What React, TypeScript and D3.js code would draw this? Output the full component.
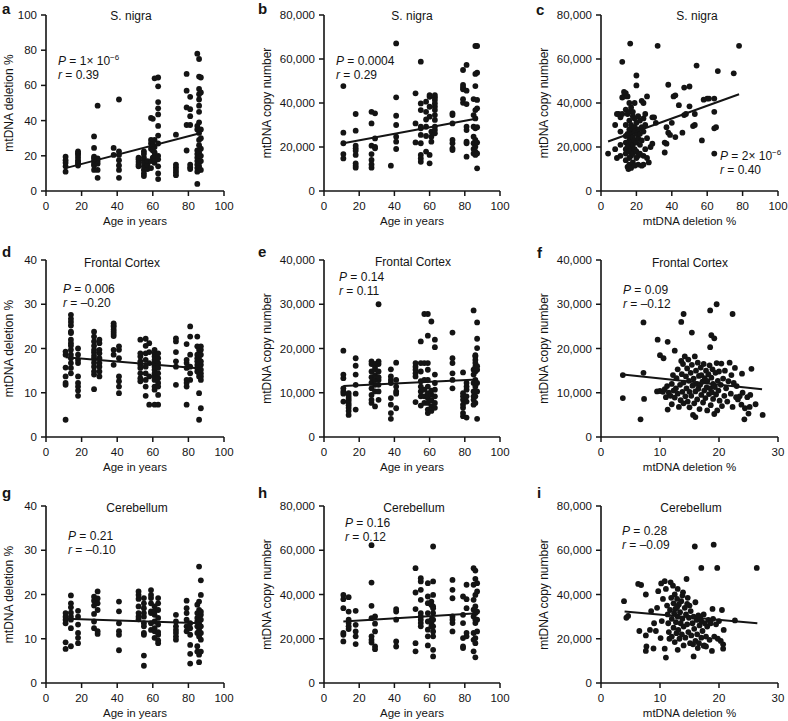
import React from 'react'
import * as d3 from 'd3'

type Pt = [number, number]
type Col = [number, number[]]

// tick values
const ageTicks = [0, 20, 40, 60, 80, 100]
const pctTicks100 = [0, 20, 40, 60, 80, 100]
const pctTicks40 = [0, 10, 20, 30, 40]
const pctTicks30 = [0, 10, 20, 30]
const copyTicks80 = [0, 20000, 40000, 60000, 80000]
const copyTicks40 = [0, 10000, 20000, 30000, 40000]

// S. nigra: age vs deletion (grouped by age)
const snAgeDel: Col[] = [
  [11, [11, 14, 16, 17.5, 19.5]],
  [18, [14.5, 15.5, 16.5, 17.5, 19, 20.5, 21.5, 22.5]],
  [27, [12, 14.5, 15.5, 17, 18.5, 19.5, 24.5, 31]],
  [29, [7.5, 12, 15.5, 17, 18.5, 48.5]],
  [38, [20.5, 24.5]],
  [41, [7.5, 12, 14.5, 17.5, 20.5, 22.5, 52]],
  [52, [14, 15, 16.5, 18, 19]],
  [55, [8.5, 10, 12, 14, 16, 17.5, 19, 21, 22.5]],
  [57, [12.5, 15, 17]],
  [59, [13, 17, 24, 27, 29, 41.5]],
  [60, [19, 23, 26, 28.5, 41]],
  [61, [16, 18, 20, 22, 25, 29, 64]],
  [63, [6.8, 10, 14, 18, 20, 27, 31.5, 37, 43.5, 47, 50.5, 59.5, 64.5]],
  [73, [9, 10.5, 12, 13.5, 15, 32]],
  [79, [23, 37.5, 47.5, 57, 66.5]],
  [81, [12.5, 13.5, 15, 37.5, 42.5, 46.5, 53.5]],
  [85, [4, 11, 13, 15, 17, 19, 21, 23, 35, 37, 78]],
  [86, [12, 14, 16, 18, 20, 22, 26, 29, 33, 39, 45, 48.5, 52, 55, 58, 65, 75]],
  [87, [12, 17, 20, 24, 30, 35, 56, 64.5]],
]
const snAgeDelFit: Pt[] = [[11, 13], [87, 33]]

// S. nigra: age vs copy number
const snAgeCopy: Col[] = [
  [11, [14800, 16800, 21700, 26500, 47700]],
  [18, [10600, 11500, 12600, 16400, 18300, 19400, 20600, 27400, 35000]],
  [27, [10600, 12100, 14100, 16800, 20600, 30700, 36000]],
  [29, [19400, 20100, 23900, 35300]],
  [38, [11500]],
  [41, [19100, 22400, 24700, 30000, 34200, 42600, 67100]],
  [52, [22100, 30700, 44400]],
  [55, [13300, 14800, 16400, 21700, 25500, 28500, 29200, 36800, 39800, 58800]],
  [58, [17900, 25000, 29200, 32500, 36000, 40600]],
  [60, [12600, 16400, 33800, 38300, 42800, 43600]],
  [61, [22400, 24700, 27000]],
  [63, [26200, 27700, 29200, 32300, 34500, 36800, 38300, 39800, 41400, 42600, 43600]],
  [73, [18600, 19400, 21700, 23200, 30700, 34500, 35300]],
  [79, [40100, 41700, 46200, 47100, 48200, 55000]],
  [81, [15600, 21700, 22400, 27700, 29200, 39500, 45600, 57300]],
  [85, [17100, 19100, 21700, 24700, 29200, 34500, 41800]],
  [86, [16400, 17900, 20100, 23200, 28500, 33000, 36800, 47700, 53200, 65900]],
  [87, [10300, 17100, 22000, 29000, 37600, 41400, 53800, 65900]],
]
const snAgeCopyFit: Pt[] = [[11, 21700], [87, 33000]]

// S. nigra: deletion vs copy number
const snDelCopy: Pt[] = [
  [4, 17000], [8, 30000], [8, 19000], [9, 15000], [9, 35000], [10, 35000], [11, 33500], [11, 27000],
  [11, 21000], [11, 16000], [12, 35000], [12, 42500], [12, 58700], [13, 43000], [13, 45000], [14, 44500],
  [14, 37000], [14, 30000], [14, 25000], [14, 22000], [14, 19000], [14, 17000], [14, 14000], [15, 43000],
  [15, 35000], [15, 26000], [15, 22000], [15, 20000], [15, 11000], [15.5, 10000], [16, 40000], [16, 36000],
  [16, 32000], [16, 28000], [16, 25000], [16, 23000], [16, 20500], [16, 18000], [16, 15000], [16, 12000],
  [16.5, 67000], [17, 38000], [17, 30000], [17, 26000], [17, 24000], [17, 22000], [17, 19000], [17, 16000],
  [17, 10500], [18, 36000], [18, 34000], [18, 28000], [18, 24500], [18, 21000], [18, 17000], [18, 13000],
  [19, 40000], [19, 33000], [19, 29000], [19, 27000], [19, 23000], [19, 19000], [19, 11500], [20, 52500],
  [20, 48000], [20, 31000], [20, 26000], [20, 22000], [20, 18000], [20, 15000], [21, 34000], [21, 28000],
  [21, 24000], [21, 16000], [21, 12000], [22, 32000], [22, 26000], [22, 21000], [22, 17000], [23, 41000],
  [23, 29000], [23, 23000], [23, 11500], [24, 40000], [24, 33000], [24, 27000], [24, 16000], [24, 12000],
  [25, 35000], [25, 30000], [25, 19000], [26, 43000], [26, 24000], [26, 15000], [27, 13000], [28, 20000],
  [29, 33500], [30, 33500], [29, 21500], [31, 31000], [32, 66000], [36, 22000], [37, 21500], [36, 17500],
  [37, 29000], [38, 48300], [38, 26500], [39, 25500], [40, 31000], [41, 43000], [42, 43500], [42, 24500],
  [44, 39000], [46, 26500], [47, 34500], [47, 47000], [48, 35000], [50, 38500], [50, 47500], [52, 29500],
  [53, 30000], [53, 35000], [54, 57000], [57, 23000], [58, 41500], [60, 42000], [61, 42000], [64, 42000],
  [64, 36000], [64, 28500], [65, 29000], [64, 17000], [66, 54500], [75, 53500], [78, 66000],
]
const snDelCopyFit: Pt[] = [[4, 22500], [78, 44000]]

// Frontal cortex: age vs deletion
const fcAgeDel: Col[] = [
  [11, [3.9, 11.8, 12.2, 13.7, 15.7, 18.6, 19.3]],
  [14, [14.4, 15.6, 16.7, 17.8, 18.6, 19.7, 20.6, 21.2, 22, 23.5, 23.8, 25.2, 26, 26.7, 27.6]],
  [18, [9.3, 10.5, 11.4, 12.2, 13.7, 16.7, 17.4, 18.6, 20]],
  [27, [10.8, 14.1, 14.8, 15.9, 16.8, 17.7, 18.3, 19.1, 19.7, 20.6, 21.6, 22.7, 23.8]],
  [30, [13.7, 14.8, 15.9, 16.7, 17.8, 18.9, 19.7, 21.2, 22]],
  [38, [16.3, 18.6, 19.7, 22.8, 23.3, 23.8, 24.3, 24.9, 25.2, 25.7]],
  [41, [9.9, 11.4, 12.6, 13.7, 17.8, 19.7, 20.5]],
  [53, [12.6, 13.3, 14.4, 15.6, 16.3, 17.1, 18.2, 18.9, 22]],
  [56, [9.3, 11.4, 12.9, 14.4, 15.9, 17.4, 18.9, 20.6, 22.2]],
  [58, [7.3, 13.7, 16.7, 19.2, 21.2]],
  [61, [7.3, 10.7, 11.4, 12.9, 13.7, 14.4, 15.2, 15.9, 16.7, 17.4, 18.2, 18.9, 19.7]],
  [63, [7.3, 9.5, 11.4, 12.2, 13.3, 14.4, 15.6, 16.7, 17.8, 18.9]],
  [73, [11.8, 15.9, 17.1, 19.2, 21.6, 22.3]],
  [79, [7.3, 11.4, 12.2, 12.9, 15.6, 16.7, 17.4, 21]],
  [81, [12.9, 14.4, 15.9, 18.6, 22.7, 25]],
  [85, [14.8, 15.6, 16.3, 17.1, 17.8, 18.6, 20.5, 22.7]],
  [86, [3.9, 9.9, 13.7, 14.4, 15.2, 15.9, 16.7, 17.4, 18.2, 18.9, 19.7]],
  [87, [6.5, 12.9, 13.7, 14.4, 15.2, 16.3, 17.1, 18.6, 19.7, 20.5]],
]
const fcAgeDelFit: Pt[] = [[11, 18], [87, 15.5]]

// Frontal cortex: age vs copy number
const fcAgeCopy: Col[] = [
  [11, [8000, 9800, 10300, 11000, 13300, 14100, 19500]],
  [14, [5000, 5900, 6600, 7200, 7700, 8300, 8800, 9300, 9900]],
  [18, [6200, 9800, 11800, 14100, 16100, 17800]],
  [27, [7700, 8400, 9500, 11000, 12300, 13500, 14800, 16500, 17100]],
  [29, [6900, 10300, 11800, 12900, 14000, 15300, 15900, 16500]],
  [31, [8400, 10300, 11800, 12900, 13500, 14800, 16500, 17100, 30000]],
  [38, [4100, 5400, 7300, 8800, 12200, 12900, 13700, 15300]],
  [41, [6500, 9800, 10300, 11400, 12900, 16800]],
  [52, [7900, 13700, 14400, 15200, 15900, 16700]],
  [55, [7100, 9200, 10300, 11400, 12600, 14800, 16700, 21600]],
  [57, [7700, 9200, 10700, 12900, 16700, 27800]],
  [59, [5400, 6200, 7700, 8800, 9900, 11400, 12900, 15200, 16700, 22900, 27800]],
  [61, [5900, 7000, 8300, 9500, 10500, 26100]],
  [63, [6600, 7700, 9200, 10700, 12200, 14100, 20300, 22000]],
  [73, [11000, 12900, 14400, 16700, 17800, 23600]],
  [79, [4700, 5400, 6600, 7300, 8400, 9200, 9900, 14600]],
  [81, [4400, 8000, 9200, 10700, 11400, 12200]],
  [85, [7300, 8400, 9200, 10300, 12200, 14100, 15200, 28600]],
  [86, [7700, 9200, 10300, 11400, 12900, 14800, 15900, 16700, 17400, 18200, 18500]],
  [87, [4100, 10300, 12200, 15200, 16000, 20100, 22200, 25900]],
]
const fcAgeCopyFit: Pt[] = [[11, 11500], [87, 13000]]

// Frontal cortex: deletion vs copy number
const fcDelCopy: Pt[] = [
  [3.7, 14000], [3.7, 8800], [6.7, 4000], [7.2, 25900], [7.2, 14500], [7.3, 8600], [9.6, 22000], [10, 18500],
  [10.6, 17800], [11.3, 21500], [12.5, 19500], [13.6, 26000], [14, 27800], [15.4, 23600], [18.5, 28600],
  [19.6, 30000], [18.7, 23000], [19.2, 22300], [22.3, 27800], [18.5, 20300], [25.5, 15400], [27.4, 5000],
  [24.3, 4000], [25, 5300], [26.2, 7400], [23.9, 14300], [25.3, 9500],
  [9.5, 10300], [10, 10400], [10.5, 10200], [10.8, 10800], [11, 9000], [11.2, 11500], [11.3, 6200],
  [11.5, 10000], [11.8, 9300], [12, 12000], [12, 7400], [12.2, 14000], [12.3, 10500], [12.5, 8900],
  [12.7, 11000], [12.8, 13300], [13, 9800], [13, 15300], [13.2, 6800], [13.4, 11800], [13.5, 8300],
  [13.6, 17200], [13.7, 14200], [13.8, 10200], [13.9, 16500], [14, 12300], [14, 7600], [14.2, 18200],
  [14.3, 9200], [14.4, 13700], [14.5, 11000], [14.6, 15500], [14.7, 8000], [14.8, 17500], [14.9, 12700],
  [15, 10200], [15, 6700], [15.2, 14500], [15.3, 9300], [15.4, 16300], [15.5, 11600], [15.6, 5000],
  [15.7, 13200], [15.8, 7600], [15.9, 18200], [16, 10300], [16, 4500], [16.1, 15000], [16.2, 12000],
  [16.3, 8500], [16.4, 16800], [16.5, 10900], [16.6, 13800], [16.7, 6300], [16.8, 11800], [16.9, 15700],
  [17, 9500], [17, 14000], [17.2, 12500], [17.3, 7800], [17.4, 16500], [17.5, 10500], [17.6, 13300],
  [17.7, 8800], [17.8, 15000], [17.9, 11200], [18, 12600], [18, 6000], [18.2, 14200], [18.3, 9700],
  [18.4, 16200], [18.5, 11000], [18.6, 7200], [18.7, 13400], [18.8, 10100], [18.9, 15300], [19, 12000],
  [19, 8600], [19.2, 5200], [19.3, 11300], [19.4, 14500], [19.5, 9600], [19.6, 16700], [19.7, 6000],
  [19.8, 12700], [19.9, 10500], [20, 14800], [20.1, 8200], [20.3, 11800], [20.4, 16600], [20.5, 7000],
  [20.7, 13200], [20.9, 9300], [21, 15000], [21.2, 11000], [21.4, 8000], [21.6, 12600], [21.8, 16800],
  [22, 9800], [22.1, 14000], [22.3, 6800], [22.5, 12200], [22.7, 15600], [22.9, 9000], [23, 11500],
  [23.2, 8500], [23.5, 9200], [23.8, 7300], [24, 10000], [24.4, 6500], [24.8, 9000], [25.2, 6800],
]
const fcDelCopyFit: Pt[] = [[3.7, 14100], [27.3, 10800]]

// Cerebellum: age vs deletion
const cbAgeDel: Col[] = [
  [11, [7.7, 9.2, 13.5, 14.3, 15, 15.8]],
  [14, [8.3, 12.4, 14.3, 15, 15.9, 17.1, 18, 19.8]],
  [18, [9, 10.2, 11.3, 13.2, 15, 16.3]],
  [27, [12.4, 13.9, 15.6, 17.5, 18.6, 19.5]],
  [29, [11.1, 11.7, 16.5, 18, 19.1, 20.7]],
  [41, [7.4, 10.9, 11.7, 13.5, 16.2, 18.4]],
  [52, [14.4, 15, 15.8, 17.3, 19, 19.9, 20.7]],
  [55, [3.9, 6.2, 10.9, 11.3, 12.8, 13.5, 15, 15.8, 16.9, 18, 19.2]],
  [59, [12, 13.5, 15.8, 16.2, 18, 19.2, 19.9, 21]],
  [61, [10.2, 11.7, 12.4, 13.9, 15.4, 16.2, 17.3]],
  [63, [9, 9.6, 10.9, 11.5, 13.2, 14.7, 16.5, 18, 19.2]],
  [73, [9.8, 10.5, 11.3, 12, 12.8, 13.9, 15.4]],
  [79, [11.7, 12.8, 14.3, 15.8, 16.9, 18.6]],
  [81, [4.4, 6.6, 8.6, 10.9, 12.4, 13.5]],
  [85, [7.1, 8.3, 11.3, 12.8, 13.9, 14.7, 15.8, 17.7]],
  [86, [4.7, 6.4, 10.5, 12, 13.5, 14.3, 15, 16.5, 18.4, 26.3]],
  [87, [7.1, 9.8, 11.3, 12.8, 14.3, 15.4, 16.1, 19.9, 23.2]],
]
const cbAgeDelFit: Pt[] = [[11, 14.5], [87, 13.5]]

// Cerebellum: age vs copy number
const cbAgeCopy: Col[] = [
  [11, [18800, 21800, 22600, 33800, 37900, 39800]],
  [14, [24400, 25600, 27100, 28600, 32300, 38800]],
  [18, [17600, 21100, 23300, 26300, 32600]],
  [27, [18300, 19500, 21100, 29300, 34900, 45400, 62300]],
  [29, [15300, 16500, 23300, 26800, 30100]],
  [41, [16500, 18800, 28600, 32300, 33400]],
  [52, [14300, 18000, 33400, 40900, 51900]],
  [55, [25600, 27100, 28600, 30100, 31600, 37600, 42100, 45900, 47400]],
  [59, [17000, 21100, 24100, 27800, 31600, 36100, 39100, 45100]],
  [61, [25600, 27100, 28600, 35300, 36800]],
  [62, [12000, 15000, 21100, 23300, 25600, 28600, 31600, 33800, 34600, 39800, 45900, 61700]],
  [73, [23300, 27100, 28600, 30100, 38300, 42100, 46600]],
  [79, [15800, 16500, 20300, 27100, 30800, 39100]],
  [81, [21100, 22600, 33800, 37900, 44400]],
  [85, [14300, 19500, 22600, 30100, 33100, 37600, 44400, 51900]],
  [86, [11600, 18000, 20300, 27100, 28600, 31600, 34600, 39800, 47100, 50800]],
  [87, [23300, 28600, 32300, 41400, 45100]],
]
const cbAgeCopyFit: Pt[] = [[11, 27800], [87, 31500]]

// Cerebellum: deletion vs copy number
const cbDelCopy: Pt[] = [
  [3.9, 37000], [4.3, 29500], [4.6, 30300], [6.3, 44800], [6.8, 44300], [6.5, 23500], [7.6, 40000],
  [7.6, 21500], [7.7, 16500], [7.6, 14500], [15.9, 61700], [19.1, 62500], [17, 52000], [19.7, 52000],
  [26.4, 52000], [22.7, 28300], [20.5, 33000], [20.8, 24000], [20.7, 17500], [20.7, 15500], [11, 11500],
  [15.7, 12000], [10.8, 15500], [13, 15000], [8.9, 15600], [8.5, 32500], [9, 27000], [8.3, 24000],
  [9.3, 23500], [9.5, 34000], [9.7, 41500], [10.2, 45000], [10.5, 38000], [10.3, 28000], [10.1, 20300],
  [10.8, 46000], [11, 42500], [11.2, 35000], [11.3, 31000], [11.4, 27000], [11.5, 23000], [11.6, 20000],
  [11.7, 33000], [11.8, 45500], [11.9, 38500], [12, 29000], [12, 21000], [12.2, 44000], [12.3, 36000],
  [12.3, 25000], [12.4, 31500], [12.5, 40000], [12.5, 18500], [12.6, 33500], [12.7, 27500], [12.8, 22500],
  [12.9, 38000], [13, 30000], [13, 42500], [13.1, 24000], [13.2, 35500], [13.3, 20000], [13.4, 32000],
  [13.5, 27000], [13.6, 37000], [13.7, 22000], [13.8, 29000], [13.9, 41000], [14, 25500], [14, 17000],
  [14.2, 34000], [14.3, 20500], [14.4, 31000], [14.5, 47000], [14.6, 26500], [14.7, 38500], [14.8, 23000],
  [14.9, 29500], [15, 35000], [15.1, 18000], [15.2, 32500], [15.3, 21500], [15.5, 27000], [15.6, 17500],
  [15.7, 30000], [15.8, 24500], [16, 36500], [16, 19000], [16.2, 28500], [16.3, 22000], [16.5, 30500],
  [16.6, 18000], [16.7, 26000], [16.8, 29500], [17, 20500], [17, 28000], [17.2, 23500], [17.4, 31000],
  [17.5, 17000], [17.6, 27000], [17.8, 21000], [18, 25500], [18.2, 28500], [18.4, 19500], [18.6, 27000],
  [18.8, 14500], [19, 29000], [19.2, 21000], [19.5, 26500], [19.8, 20000], [20, 28000], [20.3, 19000],
  [18.9, 33500], [17.8, 16500], [16.4, 15800], [17.4, 16800], [14.6, 35800], [13.8, 39500], [12.9, 34200],
]
const cbDelCopyFit: Pt[] = [[4, 32300], [26.5, 27000]]

const flat = (cols: Col[]): Pt[] => cols.flatMap(([x, ys]) => ys.map(y => [x, y] as Pt))

const font = '"Liberation Sans", Arial, Helvetica, sans-serif'
const ink = '#141414'

const colX = [[46, 224], [324, 500], [601, 778]]
const rowY = [[15, 191], [260, 437], [506, 683]]

const panels = [
  { letter: 'a', lx: 2, ly: 14, col: 0, row: 0, title: 'S. nigra', tx: 131, ty: 20, xd: [0, 100], xt: ageTicks, yd: [0, 100], yt: pctTicks100, xl: 'Age in years', yl: 'mtDNA deletion %', ylx: 9, data: flat(snAgeDel), fit: snAgeDelFit, sx: 58, sy: 65, p: '1× 10', sup: '−6', r: '0.39' },
  { letter: 'b', lx: 258, ly: 14, col: 1, row: 0, title: 'S. nigra', tx: 412, ty: 20, xd: [0, 100], xt: ageTicks, yd: [0, 80000], yt: copyTicks80, xl: 'Age in years', yl: 'mtDNA copy number', ylx: 267, data: flat(snAgeCopy), fit: snAgeCopyFit, sx: 336, sy: 65, p: '0.0004', sup: '', r: '0.29' },
  { letter: 'c', lx: 536, ly: 15, col: 2, row: 0, title: 'S. nigra', tx: 697, ty: 20, xd: [0, 100], xt: pctTicks100, yd: [0, 80000], yt: copyTicks80, xl: 'mtDNA deletion %', yl: 'mtDNA copy number', ylx: 544, data: snDelCopy, fit: snDelCopyFit, sx: 720, sy: 160, p: '2× 10', sup: '−6', r: '0.40' },
  { letter: 'd', lx: 2, ly: 257, col: 0, row: 1, title: 'Frontal Cortex', tx: 122, ty: 267, xd: [0, 100], xt: ageTicks, yd: [0, 40], yt: pctTicks40, xl: 'Age in years', yl: 'mtDNA deletion %', ylx: 9, data: flat(fcAgeDel), fit: fcAgeDelFit, sx: 63, sy: 293, p: '0.006', sup: '', r: '–0.20' },
  { letter: 'e', lx: 258, ly: 257, col: 1, row: 1, title: 'Frontal Cortex', tx: 413, ty: 266, xd: [0, 100], xt: ageTicks, yd: [0, 40000], yt: copyTicks40, xl: 'Age in years', yl: 'mtDNA copy number', ylx: 267, data: flat(fcAgeCopy), fit: fcAgeCopyFit, sx: 339, sy: 281, p: '0.14', sup: '', r: '0.11' },
  { letter: 'f', lx: 537, ly: 258, col: 2, row: 1, title: 'Frontal Cortex', tx: 690, ty: 267, xd: [0, 30], xt: pctTicks30, yd: [0, 40000], yt: copyTicks40, xl: 'mtDNA deletion %', yl: 'mtDNA copy number', ylx: 544, data: fcDelCopy, fit: fcDelCopyFit, sx: 623, sy: 294, p: '0.09', sup: '', r: '–0.12' },
  { letter: 'g', lx: 2, ly: 498, col: 0, row: 2, title: 'Cerebellum', tx: 137, ty: 512, xd: [0, 100], xt: ageTicks, yd: [0, 40], yt: pctTicks40, xl: 'Age in years', yl: 'mtDNA deletion %', ylx: 9, data: flat(cbAgeDel), fit: cbAgeDelFit, sx: 68, sy: 540, p: '0.21', sup: '', r: '–0.10' },
  { letter: 'h', lx: 258, ly: 498, col: 1, row: 2, title: 'Cerebellum', tx: 414, ty: 512, xd: [0, 100], xt: ageTicks, yd: [0, 80000], yt: copyTicks80, xl: 'Age in years', yl: 'mtDNA copy number', ylx: 267, data: flat(cbAgeCopy), fit: cbAgeCopyFit, sx: 345, sy: 527, p: '0.16', sup: '', r: '0.12' },
  { letter: 'i', lx: 537, ly: 498, col: 2, row: 2, title: 'Cerebellum', tx: 691, ty: 512, xd: [0, 30], xt: pctTicks30, yd: [0, 80000], yt: copyTicks80, xl: 'mtDNA deletion %', yl: 'mtDNA copy number', ylx: 544, data: cbDelCopy, fit: cbDelCopyFit, sx: 622, sy: 535, p: '0.28', sup: '', r: '–0.09' },
]

const Panel = ({ cfg }: { cfg: any }) => {
  const [x0, x1] = colX[cfg.col]
  const [y0, y1] = rowY[cfg.row]
  const x = d3.scaleLinear().domain(cfg.xd).range([x0, x1])
  const y = d3.scaleLinear().domain(cfg.yd).range([y1, y0])
  const fmt = d3.format(',')
  const line = d3.line<Pt>().x(d => x(d[0])).y(d => y(d[1]))

  return (
    <g fontFamily={font} fill={ink}>
      <text x={cfg.lx} y={cfg.ly} fontSize={15} fontWeight="bold">{cfg.letter}</text>
      <text x={cfg.tx} y={cfg.ty} fontSize={12} textAnchor="middle">{cfg.title}</text>

      {/* axes */}
      <line x1={x0} x2={x0} y1={y0} y2={y1} stroke={ink} strokeWidth={1.6} />
      <line x1={x0} x2={x1} y1={y1} y2={y1} stroke={ink} strokeWidth={1.6} />
      {cfg.yt.map((t: number) => (
        <g key={'y' + t}>
          <line x1={x0 - 5} x2={x0} y1={y(t)} y2={y(t)} stroke={ink} strokeWidth={1.5} />
          <text x={x0 - 9} y={y(t) + 4} fontSize={11.5} textAnchor="end">{fmt(t)}</text>
        </g>
      ))}
      {cfg.xt.map((t: number) => (
        <g key={'x' + t}>
          <line x1={x(t)} x2={x(t)} y1={y1} y2={y1 + 5} stroke={ink} strokeWidth={1.5} />
          <text x={x(t)} y={y1 + 19} fontSize={11.5} textAnchor="middle">{t}</text>
        </g>
      ))}
      <text x={(x0 + x1) / 2} y={y1 + 34} fontSize={11.5} textAnchor="middle">{cfg.xl}</text>
      <text transform={`translate(${cfg.ylx},${(y0 + y1) / 2}) rotate(-90)`} fontSize={12} textAnchor="middle" dy="0.35em">{cfg.yl}</text>

      {/* points */}
      {cfg.data.map((d: Pt, i: number) => (
        <circle key={i} cx={x(d[0])} cy={y(d[1])} r={2.9} fill={ink} />
      ))}
      <path d={line(cfg.fit) || ''} fill="none" stroke={ink} strokeWidth={2} />

      {/* stats */}
      <text x={cfg.sx} y={cfg.sy} fontSize={12}>
        <tspan fontStyle="italic">P</tspan> = {cfg.p}
        {cfg.sup ? <tspan dy={-5} fontSize={8}>{cfg.sup}</tspan> : null}
      </text>
      <text x={cfg.sx} y={cfg.sy + 14} fontSize={12}>
        <tspan fontStyle="italic">r</tspan> = {cfg.r}
      </text>
    </g>
  )
}

export default function App() {
  return (
    <svg width={788} height={721} style={{ position: 'fixed', left: 0, top: 0, background: '#fff' }}>
      <rect width={788} height={721} fill="#fff" />
      {panels.map(p => <Panel key={p.letter} cfg={p} />)}
    </svg>
  )
}
